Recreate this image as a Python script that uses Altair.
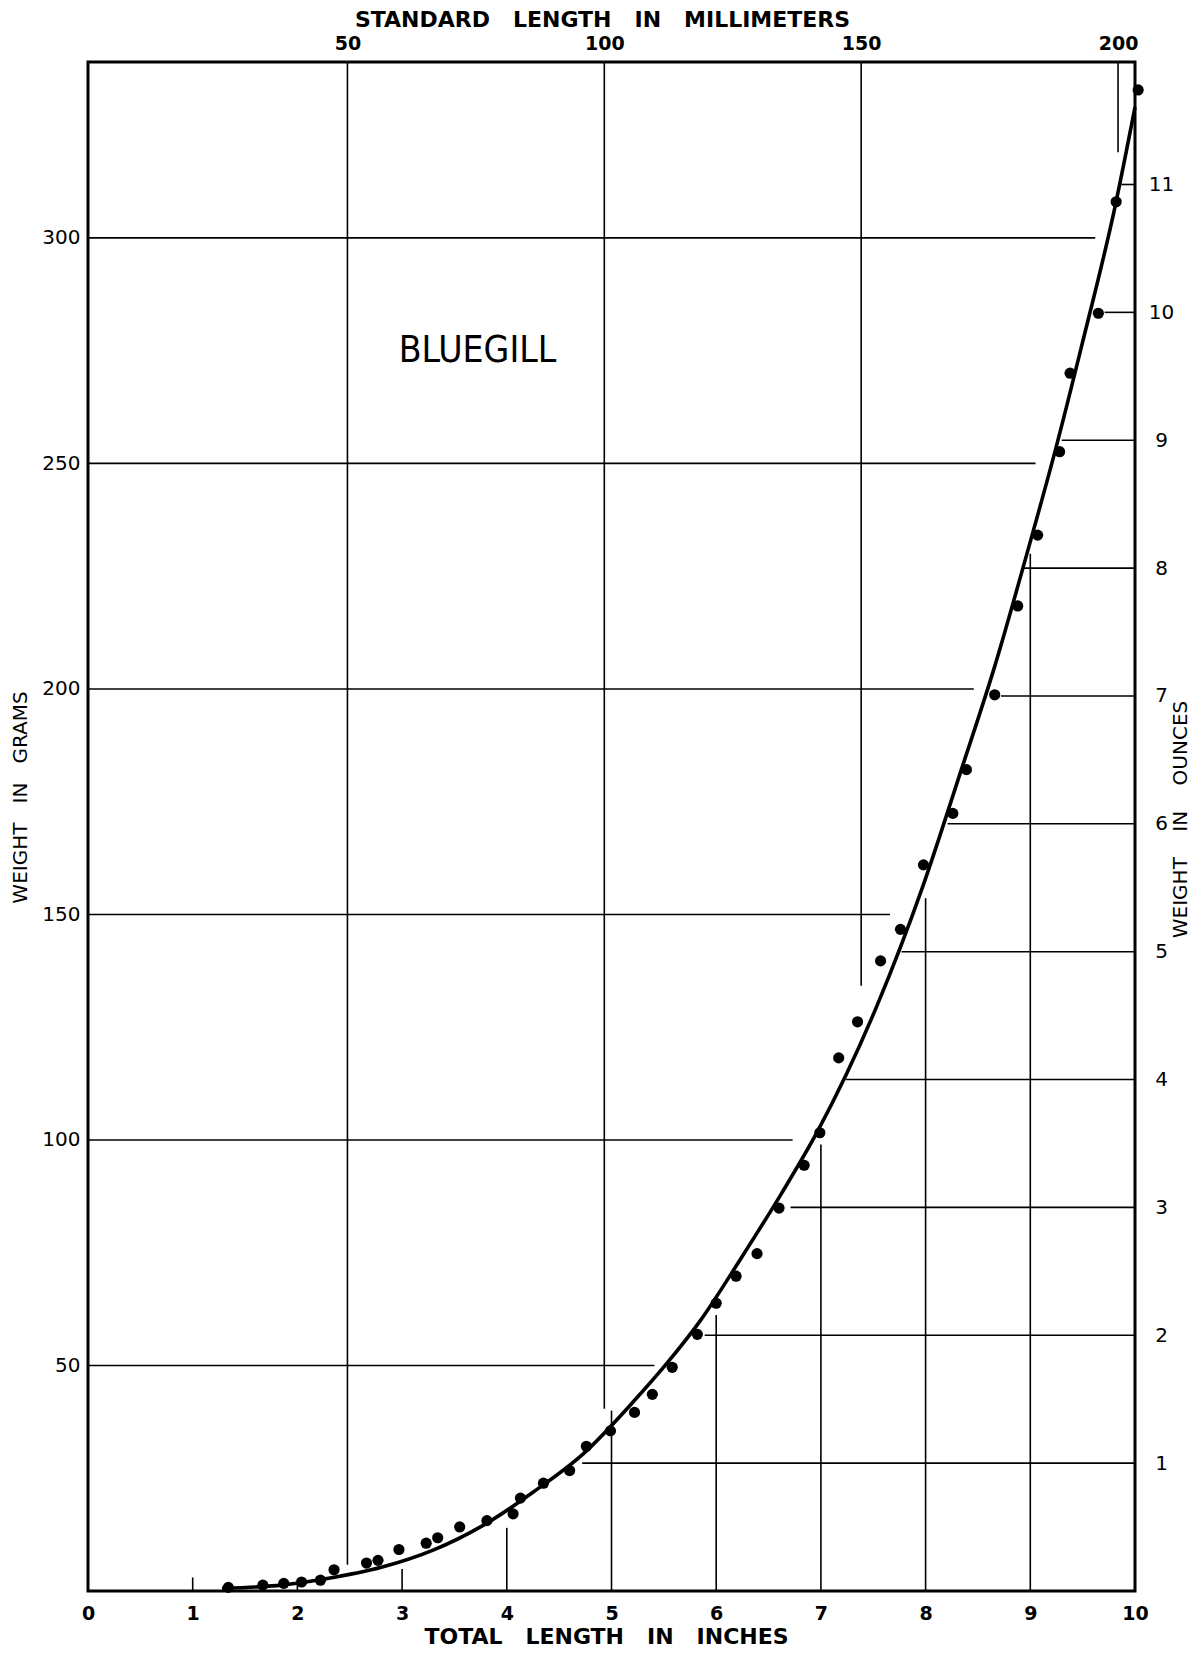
import altair as alt
import pandas as pd

# ---------------- data ----------------
inch_ticks = [0, 1, 2, 3, 4, 5, 6, 7, 8, 9, 10]
gram_ticks = [50, 100, 150, 200, 250, 300]
ounce_ticks = [1, 2, 3, 4, 5, 6, 7, 8, 9, 10, 11]
mm_ticks = [50, 100, 150, 200]

# observed points (total length in inches, weight in grams)
pt_in = [1.34, 1.67, 1.87, 2.04, 2.22, 2.35, 2.66, 2.77, 2.97, 3.23, 3.34, 3.55,
         3.81, 4.06, 4.13, 4.35, 4.60, 4.76, 4.99, 5.22, 5.39, 5.58, 5.82, 6.00,
         6.19, 6.39, 6.60, 6.84, 6.99, 7.17, 7.35, 7.57, 7.76, 7.98, 8.26, 8.39,
         8.66, 8.88, 9.07, 9.28, 9.38, 9.65, 9.82, 10.03]
pt_g = [0.8, 1.3, 1.7, 2.0, 2.4, 4.7, 6.2, 6.8, 9.2, 10.6, 11.8, 14.2,
        15.6, 17.1, 20.6, 23.9, 26.7, 32.1, 35.5, 39.6, 43.6, 49.6, 56.9, 63.8,
        69.8, 74.8, 84.9, 94.4, 101.6, 118.2, 126.2, 139.7, 146.7, 161.0, 172.4, 182.1,
        198.7, 218.4, 234.1, 252.6, 270.0, 283.3, 308.0, 332.8]

# fitted curve
cur_in = [1.28, 1.6, 1.85, 2.27, 2.81, 3.29, 3.77, 4.25, 4.73, 5.21, 5.53, 5.85,
          6.23, 6.62, 6.97, 7.54, 7.97, 8.34, 8.66, 8.98, 9.24, 9.49, 9.81, 10.0]
cur_g = [0.6, 0.9, 1.3, 2.7, 5.3, 9.0, 14.5, 21.9, 30.4, 42.0, 50.5, 60.0,
         73.5, 88.0, 102.0, 130.0, 156.0, 182.0, 205.0, 231.0, 253.0, 276.0, 307.0, 329.0]

# guide lines that run from an axis to the curve
gram_line_g = [50, 100, 150, 200, 250, 300]
gram_line_end_in = [5.41, 6.73, 7.66, 8.46, 9.05, 9.62]
ounce_line_oz = [1, 2, 3, 4, 5, 6, 7, 8, 9, 10, 11]
ounce_line_start_in = [4.72, 5.89, 6.71, 7.24, 7.77, 8.21, 8.72, 8.92, 9.30, 9.71, 9.87]
inch_line_in = [1, 2, 3, 4, 5, 6, 7, 8, 9]
inch_line_top_g = [3.0, 1.7, 4.9, 14.0, 40.0, 61.2, 99.0, 153.6, 230.0]
mm_line_mm = [50, 100, 150, 200]
mm_line_bottom_g = [5.8, 40.4, 134.2, 319.0]

label_text = ["BLUEGILL"]
label_in = [3.72]
label_g = [275.0]

GAP = "\u00a0\u00a0\u00a0"
GAP4 = "\u00a0\u00a0\u00a0\u00a0"
title_bottom = GAP.join(["TOTAL", "LENGTH", "IN", "INCHES"])
title_top = GAP.join(["STANDARD", "LENGTH", "IN", "MILLIMETERS"])
title_left = GAP.join(["WEIGHT", "IN", "GRAMS"])
title_right = GAP4.join(["WEIGHT", "IN", "OUNCES"])

# ---------------- scales ----------------
W, H = 1047, 1529
IN_DOM = [0, 10]
G_DOM = [0, 339]
OZ_DOM = [0, 11.958]
MM_DOM = [-0.5, 203.3]
FONT = "DejaVu Sans"


def sc(dom):
    return alt.Scale(domain=dom, nice=False, zero=False)


base_axis = dict(domain=False, ticks=False, grid=False, labelFont=FONT, titleFont=FONT,
                 labelColor="black", titleColor="black",
                 labelOverlap=False, labelFlush=False)

ax_left = alt.Axis(orient="left", values=gram_ticks, title=title_left,
                   labelPadding=8, labelFontWeight="normal", labelFontSize=20,
                   titleFontSize=20, titleFontWeight="normal", titleAngle=270,
                   titleAlign="center", titleBaseline="middle", titleX=-68, titleY=735,
                   **base_axis)
ax_right = alt.Axis(orient="right", values=ounce_ticks, title=title_right,
                    labelPadding=26, labelAlign="center", labelFontWeight="normal",
                    labelFontSize=20,
                    titleFontSize=20, titleFontWeight="normal", titleAngle=270,
                    titleAlign="center", titleBaseline="middle", titleX=45, titleY=757,
                    **base_axis)
ax_bottom = alt.Axis(orient="bottom", values=inch_ticks, title=title_bottom,
                     labelPadding=22, labelBaseline="middle", labelFontWeight="bold",
                     labelFontSize=19,
                     titleFontSize=22, titleFontWeight="bold", titleAngle=0,
                     titleAlign="center", titleBaseline="middle", titleX=518, titleY=45,
                     **base_axis)
ax_top = alt.Axis(orient="top", values=mm_ticks, title=title_top,
                  labelPadding=19, labelBaseline="middle", labelFontWeight="bold",
                  labelFontSize=19,
                  titleFontSize=22, titleFontWeight="bold", titleAngle=0,
                  titleAlign="center", titleBaseline="middle", titleX=514, titleY=-43,
                  **base_axis)

# ---------------- layers ----------------
gram_df = pd.DataFrame({"g": gram_line_g, "end_in": gram_line_end_in})
gram_rules = alt.Chart(gram_df).mark_rule(color="black", strokeWidth=1.6).encode(
    x=alt.X("end_in:Q", scale=sc(IN_DOM), axis=None),
    x2=alt.datum(0),
    y=alt.Y("g:Q", scale=sc(G_DOM), axis=ax_left),
)

oz_df = pd.DataFrame({"oz": ounce_line_oz, "start_in": ounce_line_start_in})
oz_rules = alt.Chart(oz_df).mark_rule(color="black", strokeWidth=1.6).encode(
    x=alt.X("start_in:Q", scale=sc(IN_DOM), axis=None),
    x2=alt.datum(10),
    y=alt.Y("oz:Q", scale=sc(OZ_DOM), axis=ax_right),
)

inch_df = pd.DataFrame({"inch": inch_line_in, "top_g": inch_line_top_g})
inch_rules = alt.Chart(inch_df).mark_rule(color="black", strokeWidth=1.6).encode(
    x=alt.X("inch:Q", scale=sc(IN_DOM), axis=ax_bottom),
    y=alt.Y("top_g:Q", scale=sc(G_DOM), axis=None),
    y2=alt.datum(0),
)

mm_df = pd.DataFrame({"mm": mm_line_mm, "bottom_g": mm_line_bottom_g})
mm_rules = alt.Chart(mm_df).mark_rule(color="black", strokeWidth=1.6).encode(
    x=alt.X("mm:Q", scale=sc(MM_DOM), axis=ax_top),
    y=alt.Y("bottom_g:Q", scale=sc(G_DOM), axis=None),
    y2=alt.datum(339),
)

cur_df = pd.DataFrame({"inch": cur_in, "g": cur_g})
curve = alt.Chart(cur_df).mark_line(color="black", strokeWidth=3.6,
                                    interpolate="monotone").encode(
    x=alt.X("inch:Q", scale=sc(IN_DOM), axis=None),
    y=alt.Y("g:Q", scale=sc(G_DOM), axis=None),
)

pt_df = pd.DataFrame({"inch": pt_in, "g": pt_g})
points = alt.Chart(pt_df).mark_circle(color="black", opacity=1, size=125).encode(
    x=alt.X("inch:Q", scale=sc(IN_DOM), axis=None),
    y=alt.Y("g:Q", scale=sc(G_DOM), axis=None),
)

lab_df = pd.DataFrame({"t": label_text, "inch": label_in, "g": label_g})
label = alt.Chart(lab_df).mark_text(
    font="Liberation Sans Narrow, DejaVu Sans Condensed, DejaVu Sans",
    fontSize=37, color="black", align="center", baseline="middle"
).encode(
    x=alt.X("inch:Q", scale=sc(IN_DOM), axis=None),
    y=alt.Y("g:Q", scale=sc(G_DOM), axis=None),
    text="t:N",
)

chart = alt.layer(
    gram_rules, oz_rules, inch_rules, mm_rules, curve, points, label
).resolve_scale(
    x="independent", y="independent"
).properties(
    width=W, height=H,
    autosize=alt.AutoSizeParams(type="none"),
    padding={"left": 80, "top": 54, "right": 55, "bottom": 56},
    background="white",
).configure_view(
    stroke="black", strokeWidth=3
)

chart.save("out.html", embed_options={"renderer": "svg", "actions": False})
